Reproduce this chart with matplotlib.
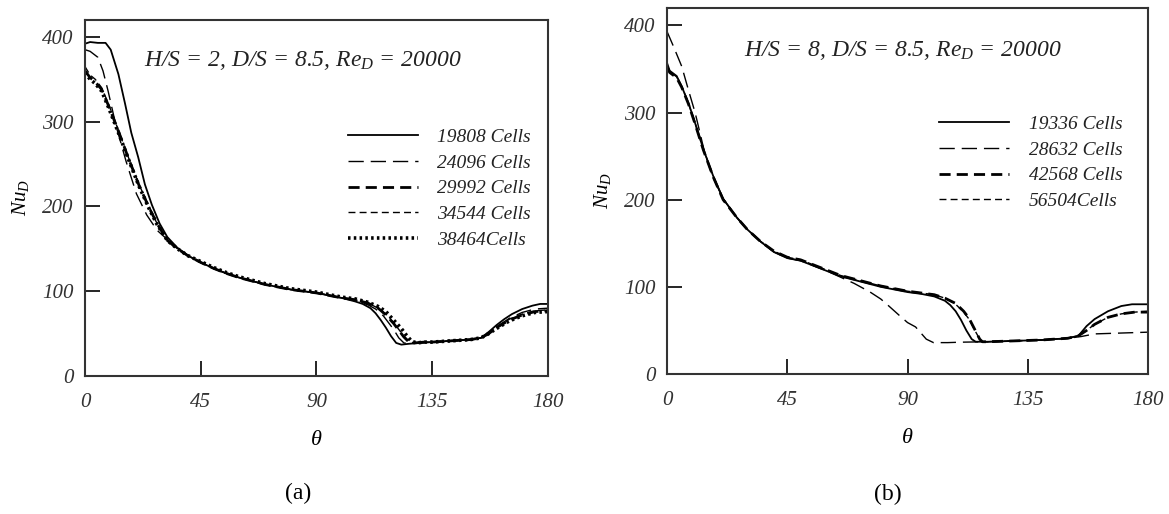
import matplotlib
matplotlib.use("Agg")
import matplotlib.pyplot as plt

plt.rcParams["font.family"] = ["Liberation Serif", "DejaVu Serif"]
plt.rcParams["mathtext.fontset"] = "custom"
plt.rcParams["mathtext.it"] = "Liberation Serif:italic"
plt.rcParams["mathtext.rm"] = "Liberation Serif:italic"

# ---- panel (a): H/S = 2 ----
a_labels = ["19808 Cells", "24096 Cells", "29992 Cells", "34544 Cells", "38464Cells"]

a_th_19808 = [0, 2, 5, 8, 10, 13, 15.6, 18, 20.7, 23.3, 26, 29, 32, 36, 40, 45, 50, 55, 60, 65, 70, 75, 80, 85, 90, 95,
              100, 105, 108, 111, 113, 115, 117, 119, 121, 123, 126, 130, 135, 140, 145, 150, 154, 157, 160, 163, 166,
              170, 174, 177, 180]
a_nu_19808 = [392, 394, 393, 393, 385, 356, 321, 287, 258, 226, 202, 180, 164, 151, 142, 134, 127, 121, 116, 112, 108,
              105, 102, 100, 98, 95, 92, 88, 85, 80, 74, 66, 57, 47, 39, 37, 38, 39, 40, 41, 42, 43, 45, 52, 60, 67, 73,
              79, 83, 85, 85]

a_th_24096 = [0, 2, 5, 7, 9, 12, 16, 20, 24, 28, 32, 36, 40, 45, 50, 55, 60, 65, 70, 75, 80, 85, 90, 95, 100, 105, 110,
              113, 116, 118, 120, 122, 124, 126, 130, 135, 140, 145, 150, 154, 157, 160, 165, 170, 175, 180]
a_nu_24096 = [385, 383, 376, 360, 336, 296, 253, 215, 190, 172, 161, 151, 142, 134, 127, 121, 116, 112, 108, 105, 102,
              100, 98, 95, 92, 89, 84, 79, 71, 63, 55, 45, 39, 38, 39, 40, 41, 42, 43, 45, 51, 58, 68, 75, 79, 80]

a_th_29992 = [0, 2, 4, 6.5, 9, 13, 17, 21, 25, 28, 32, 36, 40, 45, 50, 55, 60, 65, 70, 75, 80, 85, 90, 95, 100, 105, 110,
              114, 117, 120, 122, 124, 126, 128, 132, 135, 140, 145, 150, 154, 157, 160, 165, 170, 175, 180]
a_nu_29992 = [360, 352, 347, 338, 320, 289, 256, 225, 198, 180, 160, 150, 142, 134, 127, 121, 116, 112, 108, 105, 102,
              100, 98, 95, 92, 90, 86, 80, 72, 62, 54, 46, 40, 39, 40, 40, 41, 42, 43, 45, 50, 57, 66, 72, 76, 77]

a_th_34544 = [0, 2, 4, 6.5, 9, 13, 17, 21, 25, 28, 32, 36, 40, 45, 50, 55, 60, 65, 70, 75, 80, 85, 90, 95, 100, 105, 110,
              114, 117, 120, 122, 124, 126, 128, 132, 135, 140, 145, 150, 154, 157, 160, 165, 170, 175, 180]
a_nu_34544 = [365, 355, 350, 340, 322, 290, 257, 226, 199, 180, 160, 150, 142, 134, 127, 121, 116, 112, 108, 105, 102,
              100, 98, 95, 92, 90, 86, 80, 73, 63, 55, 47, 41, 39, 40, 40, 41, 42, 43, 45, 50, 57, 67, 73, 77, 78]

a_th_38464 = [0, 2, 4, 6.5, 9, 13, 17, 21, 25, 28, 32, 36, 40, 45, 50, 55, 60, 65, 70, 75, 80, 85, 90, 95, 100, 105, 110,
              114, 117, 120, 123, 125, 127, 129, 132, 135, 140, 145, 150, 154, 157, 160, 165, 170, 175, 180]
a_nu_38464 = [358, 350, 345, 336, 318, 287, 255, 224, 197, 179, 160, 150, 142, 135, 128, 122, 117, 113, 109, 106, 103,
              101, 99, 96, 93, 91, 87, 82, 76, 66, 56, 48, 41, 39, 40, 40, 41, 42, 43, 45, 50, 56, 65, 71, 75, 76]

# ---- panel (b): H/S = 8 ----
b_labels = ["19336 Cells", "28632 Cells", "42568 Cells", "56504Cells"]

b_th_19336 = [0, 1, 3.6, 5.5, 8, 10.5, 13.6, 17.3, 21, 26, 30, 35, 40, 45, 50, 55, 60, 65, 70, 75, 80, 85, 90, 95, 100,
              104, 106, 108, 110, 112, 114, 115.5, 120, 130, 140, 150, 154, 157, 160, 165, 170, 174, 180]
b_nu_19336 = [357, 348, 342, 330, 311, 288, 258, 227, 201, 180, 166, 152, 140, 133, 130, 124, 118, 112, 108, 104, 100,
              97, 94, 92, 89, 84, 79, 72, 62, 50, 40, 37, 37, 38, 39, 41, 44, 55, 63, 72, 78, 80, 80]

b_th_28632 = [0, 2.4, 5.5, 8, 10.5, 12.3, 14, 17, 21, 26, 30, 35, 40, 45, 50, 55, 60, 65, 70, 76, 80, 83, 87, 90, 93, 95,
              97, 99.7, 105, 110, 120, 130, 140, 150, 155, 160, 170, 180]
b_nu_28632 = [393, 376, 353, 326, 300, 277, 255, 227, 201, 180, 166, 152, 140, 133, 130, 124, 118, 111, 104, 94, 86, 78,
              67, 59, 54, 47, 40, 36, 36, 36.5, 37, 38, 39, 41, 43, 46, 47, 48]

b_th_42568 = [0, 1, 3.6, 5.5, 8, 10.5, 13.6, 17.3, 21, 26, 30, 35, 40, 45, 50, 55, 60, 65, 70, 75, 80, 85, 90, 95, 100,
              104, 108, 111, 113, 115, 117, 118, 120, 130, 140, 150, 154, 157, 160, 165, 170, 175, 180]
b_nu_42568 = [352, 346, 340, 329, 310, 287, 257, 226, 200, 180, 166, 152, 141, 134, 131, 125, 119, 113, 109, 105, 101,
              98, 95, 93, 91, 87, 81, 72, 64, 52, 40, 37, 37, 38, 39, 41, 44, 50, 57, 65, 69, 71, 71]

b_th_56504 = b_th_42568
b_nu_56504 = [354, 347, 341, 330, 311, 288, 258, 227, 201, 180, 166, 152, 141, 134, 131, 125, 119, 113, 109, 105, 101,
              98, 95, 93, 91, 87, 80, 71, 63, 51, 40, 37, 37, 38, 39, 41, 44, 50, 57, 65, 69, 71, 72]

xticks = [0, 45, 90, 135, 180]
yticks = [0, 100, 200, 300, 400]

solid = dict(color="black", lw=1.3, linestyle="-")
longdash = dict(color="black", lw=1.0, linestyle=(0, (11, 5)))
thickdash = dict(color="black", lw=2.0, linestyle=(0, (4, 2.2)))
thindash = dict(color="black", lw=1.0, linestyle=(0, (5, 3)))
dotted = dict(color="black", lw=2.6, linestyle=(0, (0.7, 0.9)))

fig = plt.figure(figsize=(11.69, 5.14), dpi=100)
axa = fig.add_axes([0.0727, 0.2685, 0.396, 0.6926])
axb = fig.add_axes([0.5706, 0.2724, 0.4115, 0.712])

axa.plot(a_th_19808, a_nu_19808, label=a_labels[0], **solid)
axa.plot(a_th_24096, a_nu_24096, label=a_labels[1], **longdash)
axa.plot(a_th_29992, a_nu_29992, label=a_labels[2], **thickdash)
axa.plot(a_th_34544, a_nu_34544, label=a_labels[3], **thindash)
axa.plot(a_th_38464, a_nu_38464, label=a_labels[4], **dotted)

axb.plot(b_th_19336, b_nu_19336, label=b_labels[0], **solid)
axb.plot(b_th_28632, b_nu_28632, label=b_labels[1], **longdash)
axb.plot(b_th_42568, b_nu_42568, label=b_labels[2], **thickdash)
axb.plot(b_th_56504, b_nu_56504, label=b_labels[3], **thindash)

titles = [r"$H/S$ = 2, $D/S$ = 8.5, $Re_D$ = 20000", r"$H/S$ = 8, $D/S$ = 8.5, $Re_D$ = 20000"]
title_x = [0.47, 0.49]
leg_top = [0.745, 0.755]
for ax, title, tx, ly, tag in [(axa, titles[0], title_x[0], leg_top[0], "(a)"),
                               (axb, titles[1], title_x[1], leg_top[1], "(b)")]:
    ax.set_xlim(0, 180)
    ax.set_ylim(0, 420)
    ax.set_xticks(xticks)
    ax.set_yticks(yticks)
    ax.tick_params(direction="in", length=11, width=1.2, labelsize=15, top=False, right=False)
    ax.tick_params(axis="x", pad=12)
    ax.tick_params(axis="y", pad=8)
    for lab in ax.get_xticklabels() + ax.get_yticklabels():
        lab.set_fontstyle("italic")
        lab.set_color("#333333")
    for sp in ax.spines.values():
        sp.set_linewidth(1.5)
        sp.set_color("#333333")
    ax.set_xlabel(r"$\theta$", fontsize=16, labelpad=14)
    ax.set_ylabel(r"$Nu_D$", fontsize=15, labelpad=8)
    ax.text(tx, 0.885, title, transform=ax.transAxes, ha="center", va="center", fontsize=17,
            fontstyle="italic", color="#222222")
    leg = ax.legend(loc="upper left", bbox_to_anchor=(0.53, ly), frameon=False, handlelength=3.6,
                    handletextpad=1.0, labelspacing=0.42, prop={"family": "Liberation Serif", "style": "italic",
                                                               "size": 14})
    for t in leg.get_texts():
        t.set_color("#222222")
    ax.text(0.46, -0.33, tag, transform=ax.transAxes, ha="center", va="center", fontsize=17)

fig.savefig("out.png", dpi=100)
